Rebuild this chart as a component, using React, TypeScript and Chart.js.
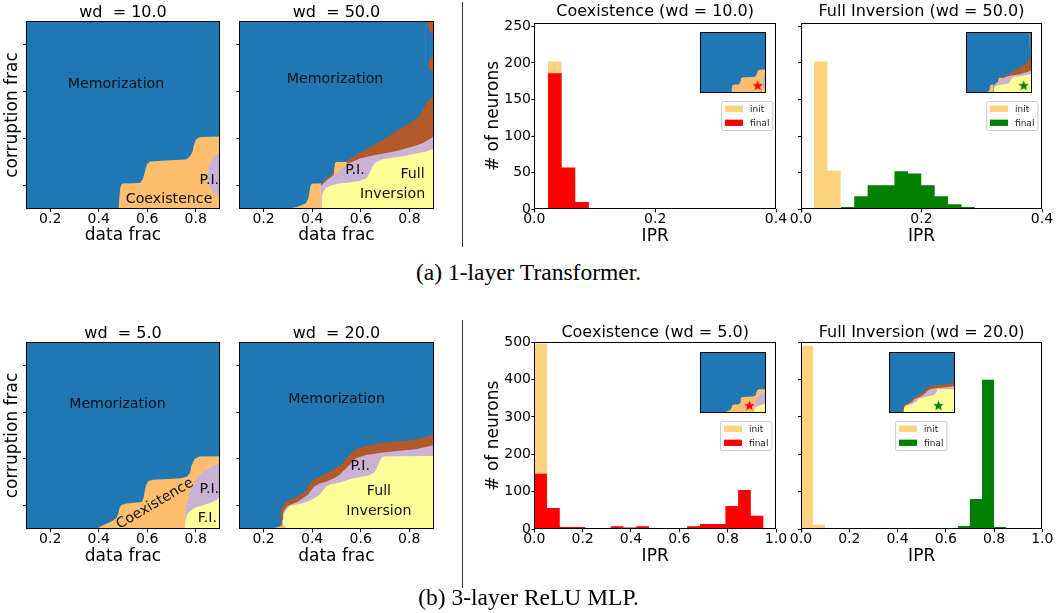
import React, { useEffect, useRef } from 'react';
import { Chart, registerables } from 'chart.js';

Chart.register(...registerables);

const FONT = "'DejaVu Sans', sans-serif";
const BLUE = '#1f77b4';
const ORANGE = '#fdbf6f';
const PURPLE = '#cab2d6';
const YELLOW = '#ffff99';
const BROWN = '#b15928';
const INIT_COLOR = 'rgba(255,165,0,0.5)';
const RED = '#ff0000';
const GREEN = '#008000';

type Pt = [number, number];

// ---------------- phase diagram data (data frac, corruption frac) ----------------
const PHASE_TICKS = [0.2, 0.4, 0.6, 0.8];

// (a) wd = 10.0
const P1_COEX_LOW: Pt[] = [[0.848, 0.245], [0.85, 0.22], [0.856, 0.2], [0.866, 0.18], [0.88, 0.165], [0.9, 0.153]];
const P1_PI: Pt[] = [[0.848, 0.245], [0.85, 0.27], [0.856, 0.29], [0.866, 0.31], [0.88, 0.327], [0.9, 0.337]];
const P1_COEX: Pt[] = [[0.1, 0.1], [0.482, 0.1], [0.485, 0.15], [0.489, 0.19], [0.494, 0.205], [0.5, 0.209], [0.57, 0.211], [0.582, 0.228], [0.588, 0.25], [0.594, 0.275], [0.6, 0.292], [0.612, 0.302], [0.66, 0.305], [0.76, 0.311], [0.775, 0.322], [0.786, 0.343], [0.792, 0.37], [0.798, 0.39], [0.806, 0.4], [0.82, 0.406], [0.9, 0.408]];
const P1_MEM: Pt[] = [[0.1, 0.9], [0.9, 0.9]];

// (a) wd = 50.0
const P2_COEX_LOW: Pt[] = [[0.295, 0.1], [0.34, 0.11], [0.374, 0.124], [0.384, 0.145], [0.389, 0.175], [0.392, 0.195], [0.397, 0.206], [0.405, 0.209], [0.436, 0.209], [0.437, 0.1]];
const P2_FI: Pt[] = [[0.437, 0.1], [0.439, 0.15], [0.446, 0.175], [0.457, 0.19], [0.477, 0.2], [0.512, 0.209], [0.553, 0.213], [0.594, 0.219], [0.625, 0.232], [0.638, 0.255], [0.647, 0.28], [0.66, 0.298], [0.69, 0.312], [0.731, 0.318], [0.786, 0.327], [0.827, 0.336], [0.861, 0.343], [0.9, 0.355]];
const P2_PI: Pt[] = [[0.436, 0.2], [0.46, 0.222], [0.49, 0.246], [0.512, 0.262], [0.53, 0.278], [0.553, 0.296], [0.6, 0.316], [0.65, 0.328], [0.7, 0.337], [0.76, 0.35], [0.81, 0.365], [0.855, 0.38], [0.9, 0.408]];
const P2_COEX_BLOB: Pt[] = [[0.488, 0.244], [0.491, 0.275], [0.494, 0.295], [0.5, 0.3], [0.54, 0.3], [0.545, 0.295], [0.548, 0.29]];
const P2_OTHER: Pt[] = [[0.44, 0.213], [0.47, 0.238], [0.487, 0.256], [0.491, 0.28], [0.495, 0.298], [0.5, 0.301], [0.545, 0.301], [0.555, 0.315], [0.6, 0.34], [0.65, 0.37], [0.7, 0.4], [0.76, 0.44], [0.81, 0.47], [0.84, 0.495], [0.855, 0.525], [0.875, 0.56], [0.9, 0.577]];
const P2_MEM: Pt[] = [[0.1, 0.9], [0.868, 0.9], [0.868, 0.71], [0.874, 0.71], [0.885, 0.693], [0.9, 0.682]];
const P2_OTHER_BLOB: Pt[] = [[0.874, 0.71], [0.88, 0.728], [0.89, 0.745], [0.9, 0.757]];
const P2_MEM_TOP: Pt[] = [[0.868, 0.9], [0.875, 0.88], [0.883, 0.86], [0.892, 0.845], [0.9, 0.838]];
const P2_OTHER_CORNER: Pt[] = [[0.868, 0.9], [0.9, 0.9]];

// (b) wd = 5.0
const P5_FI: Pt[] = [[0.755, 0.1], [0.755, 0.126], [0.76, 0.15], [0.768, 0.168], [0.78, 0.18], [0.8, 0.193], [0.83, 0.203], [0.86, 0.212], [0.885, 0.225], [0.9, 0.24]];
const P5_PI: Pt[] = [[0.753, 0.13], [0.756, 0.16], [0.76, 0.19], [0.765, 0.215], [0.772, 0.245], [0.78, 0.27], [0.797, 0.305], [0.815, 0.33], [0.835, 0.35], [0.866, 0.367], [0.9, 0.386]];
const P5_COEX: Pt[] = [[0.1, 0.1], [0.39, 0.1], [0.405, 0.111], [0.433, 0.125], [0.46, 0.137], [0.474, 0.15], [0.481, 0.17], [0.486, 0.193], [0.494, 0.204], [0.515, 0.21], [0.578, 0.216], [0.585, 0.235], [0.59, 0.265], [0.596, 0.292], [0.605, 0.306], [0.625, 0.311], [0.74, 0.318], [0.763, 0.324], [0.776, 0.34], [0.783, 0.372], [0.795, 0.4], [0.815, 0.41], [0.9, 0.412]];
const P5_MEM: Pt[] = [[0.1, 0.9], [0.9, 0.9]];

// (b) wd = 20.0
const P6_COEX: Pt[] = [[0.2, 0.1], [0.23, 0.103], [0.26, 0.11], [0.275, 0.116], [0.285, 0.118], [0.29, 0.11], [0.295, 0.1]];
const P6_FI: Pt[] = [[0.279, 0.1], [0.28, 0.14], [0.284, 0.165], [0.292, 0.18], [0.306, 0.198], [0.33, 0.205], [0.361, 0.211], [0.396, 0.225], [0.43, 0.246], [0.445, 0.265], [0.458, 0.283], [0.475, 0.292], [0.512, 0.299], [0.554, 0.313], [0.595, 0.322], [0.636, 0.332], [0.655, 0.342], [0.664, 0.355], [0.672, 0.375], [0.68, 0.395], [0.691, 0.41], [0.75, 0.412], [0.9, 0.413]];
const P6_PI: Pt[] = [[0.276, 0.14], [0.28, 0.17], [0.29, 0.19], [0.3, 0.2], [0.341, 0.218], [0.382, 0.246], [0.395, 0.265], [0.409, 0.282], [0.43, 0.295], [0.457, 0.303], [0.49, 0.318], [0.512, 0.332], [0.535, 0.355], [0.554, 0.374], [0.581, 0.403], [0.622, 0.417], [0.691, 0.427], [0.76, 0.435], [0.828, 0.441], [0.9, 0.459]];
const P6_OTHER: Pt[] = [[0.27, 0.14], [0.271, 0.17], [0.275, 0.195], [0.292, 0.218], [0.334, 0.236], [0.36, 0.252], [0.375, 0.268], [0.386, 0.29], [0.396, 0.303], [0.43, 0.324], [0.485, 0.353], [0.526, 0.381], [0.54, 0.4], [0.554, 0.417], [0.581, 0.441], [0.622, 0.455], [0.677, 0.467], [0.746, 0.474], [0.815, 0.481], [0.87, 0.495], [0.9, 0.502]];
const P6_MEM: Pt[] = [[0.1, 0.9], [0.9, 0.9]];

// region labels (data coordinates)
const P1_LABELS = [
  { text: 'Memorization', x: 0.471, y: 0.629 },
  { text: 'Coexistence', x: 0.69, y: 0.141 },
  { text: 'P.I.', x: 0.856, y: 0.224 },
];
const P2_LABELS = [
  { text: 'Memorization', x: 0.494, y: 0.65 },
  { text: 'P.I.', x: 0.576, y: 0.263 },
  { text: 'Full', x: 0.813, y: 0.249 },
  { text: 'Inversion', x: 0.731, y: 0.164 },
];
const P5_LABELS = [
  { text: 'Memorization', x: 0.477, y: 0.634 },
  { text: 'Coexistence', x: 0.632, y: 0.208, angle: 30.5 },
  { text: 'P.I.', x: 0.856, y: 0.272 },
  { text: 'F.I.', x: 0.848, y: 0.147 },
];
const P6_LABELS = [
  { text: 'Memorization', x: 0.501, y: 0.656 },
  { text: 'P.I.', x: 0.598, y: 0.367 },
  { text: 'Full', x: 0.675, y: 0.261 },
  { text: 'Inversion', x: 0.675, y: 0.175 },
];

// star markers in insets
const I3_STAR: Pt = [0.8, 0.2];
const I4_STAR: Pt = [0.8, 0.2];
const I7_STAR: Pt = [0.7, 0.2];
const I8_STAR: Pt = [0.7, 0.2];

// ---------------- histogram data (IPR bins, # of neurons) ----------------
const HIST_A_XTICKS = [0, 0.2, 0.4];
const HIST_A_YTICKS = [0, 50, 100, 150, 200, 250];
const HIST_B_XTICKS = [0, 0.2, 0.4, 0.6, 0.8, 1.0];
const HIST_B_YTICKS = [0, 100, 200, 300, 400, 500];

const H3_INIT_EDGES = [0.0226, 0.0452, 0.0678];
const H3_INIT_COUNTS = [202, 54];
const H3_FINAL_EDGES = [0.0226, 0.0452, 0.0678, 0.0904];
const H3_FINAL_COUNTS = [186, 57, 10];

const H4_INIT_EDGES = [0.0216, 0.0439, 0.0661];
const H4_INIT_COUNTS = [202, 53];
const H4_FINAL_EDGES = [0.0661, 0.0884, 0.1106, 0.1329, 0.1551, 0.1774, 0.1996, 0.2219, 0.2441, 0.2664, 0.2886];
const H4_FINAL_COUNTS = [3, 18, 33, 33, 52, 49, 33, 18, 7, 3];

const H7_INIT_EDGES = [0, 0.0527, 0.1054];
const H7_INIT_COUNTS = [496, 10];
const H7_FINAL_EDGES = [0, 0.0527, 0.1054, 0.1581, 0.2108, 0.2635, 0.3162, 0.3689, 0.4216, 0.4743, 0.527, 0.5797, 0.6324, 0.6851, 0.7378, 0.7905, 0.8432, 0.8959, 0.9486];
const H7_FINAL_COUNTS = [148, 57, 6, 6, 1, 3, 8, 5, 8, 3, 3, 3, 8, 14, 14, 62, 105, 36];

const H8_INIT_EDGES = [0, 0.05, 0.1];
const H8_INIT_COUNTS = [490, 12];
const H8_FINAL_EDGES = [0.3, 0.35, 0.6, 0.65, 0.7, 0.75, 0.8, 0.85];
const H8_FINAL_COUNTS = [1, 0, 3, 9, 81, 399, 6];

// ---------------- helpers ----------------
const TICK_LEN = 3;
const TICK_FS = 14;
const LABEL_FS = 17;
const TITLE_FS = 16;

const toXY = (a: Pt[]) => a.map(([x, y]) => ({ x, y }));

function stepPts(edges: number[], counts: number[]) {
  const p = counts.map((c, i) => ({ x: edges[i], y: c }));
  p.push({ x: edges[edges.length - 1], y: counts[counts.length - 1] });
  return p;
}

type Plot = { l: number; t: number; r: number; b: number };
function fitBox(plot: Plot, want: { left: number; top: number; right: number; bottom: number }) {
  const left = Math.floor(plot.l - want.left);
  const top = Math.floor(plot.t - want.top);
  const width = Math.ceil(plot.r + want.right - left);
  const height = Math.ceil(plot.b + want.bottom - top);
  return { left, top, width, height, mL: plot.l - left, mT: plot.t - top, mR: left + width - plot.r, mB: top + height - plot.b };
}

const framePlugin = {
  id: 'frame',
  afterDatasetsDraw(chart: any) {
    const { ctx, chartArea: a } = chart;
    ctx.save();
    ctx.strokeStyle = '#000';
    ctx.lineWidth = 1;
    const l = Math.round(a.left) + 0.5, t = Math.round(a.top) + 0.5;
    const r = Math.round(a.right) - 0.5, b = Math.round(a.bottom) - 0.5;
    ctx.strokeRect(l, t, r - l, b - t);
    ctx.restore();
  },
};

function makeTextPlugin(items: any[]) {
  return {
    id: 'phaseText',
    afterDatasetsDraw(chart: any) {
      const { ctx, scales } = chart;
      ctx.save();
      ctx.fillStyle = '#111';
      ctx.font = `14.2px ${FONT}`;
      ctx.textAlign = 'center';
      ctx.textBaseline = 'middle';
      items.forEach((it) => {
        ctx.save();
        ctx.translate(scales.x.getPixelForValue(it.x), scales.y.getPixelForValue(it.y));
        ctx.rotate((-(it.angle || 0) * Math.PI) / 180);
        ctx.fillText(it.text, 0, 0);
        ctx.restore();
      });
      ctx.restore();
    },
  };
}

function makeLegendPlugin(dx: number, dy: number) {
  return {
    id: 'boxLegend',
    afterDraw(chart: any) {
      const { ctx, chartArea } = chart;
      const items = chart.data.datasets.map((d: any) => ({ label: d.label, color: d.backgroundColor }));
      ctx.save();
      ctx.font = `9px ${FONT}`;
      const pad = 3.5, hw = 18, hh = 6.3, gap = 7, row = 14;
      const tw = Math.max(...items.map((i: any) => ctx.measureText(i.label).width));
      const w = pad + hw + gap + tw + pad;
      const h = items.length * row + 1;
      const x0 = Math.round(chartArea.left + dx) + 0.5;
      const y0 = Math.round(chartArea.top + dy) + 0.5;
      ctx.beginPath();
      if (ctx.roundRect) ctx.roundRect(x0, y0, w, h, 2);
      else ctx.rect(x0, y0, w, h);
      ctx.fillStyle = 'rgba(255,255,255,0.8)';
      ctx.fill();
      ctx.strokeStyle = '#cccccc';
      ctx.lineWidth = 1;
      ctx.stroke();
      items.forEach((it: any, i: number) => {
        const cy = y0 + 7.3 + i * row;
        ctx.fillStyle = it.color;
        ctx.fillRect(x0 + pad, cy - hh / 2, hw, hh);
        ctx.fillStyle = '#222';
        ctx.textBaseline = 'middle';
        ctx.textAlign = 'left';
        ctx.fillText(it.label, x0 + pad + hw + gap, cy + 0.5);
      });
      ctx.restore();
    },
  };
}

function makeStar(color: string, size: number) {
  const c = document.createElement('canvas');
  c.width = size;
  c.height = size;
  const g = c.getContext('2d')!;
  const cx = size / 2, cy = size / 2 + 0.5, R = size / 2, r = R * 0.42;
  g.beginPath();
  for (let i = 0; i < 10; i++) {
    const a = -Math.PI / 2 + (i * Math.PI) / 5;
    const rad = i % 2 === 0 ? R : r;
    g.lineTo(cx + rad * Math.cos(a), cy + rad * Math.sin(a));
  }
  g.closePath();
  g.fillStyle = color;
  g.fill();
  return c;
}

const gridOpts = { display: true, drawOnChartArea: false, drawTicks: true, tickLength: TICK_LEN, tickColor: '#000', tickWidth: 1, color: '#000' };

function xAxis(plot: Plot, lay: any, o: any) {
  return {
    type: 'linear', position: 'bottom', min: o.min, max: o.max,
    afterBuildTicks: (s: any) => { s.ticks = o.ticks.map((v: number) => ({ value: v })); },
    afterFit: (s: any) => { s.height = lay.mB; s.paddingLeft = 0; s.paddingRight = 0; },
    grid: gridOpts,
    border: { display: false },
    ticks: {
      display: true, autoSkip: false, maxRotation: 0, minRotation: 0, color: '#000',
      font: { family: FONT, size: TICK_FS, lineHeight: 1 },
      padding: o.labelY - plot.b - TICK_LEN - TICK_FS / 2,
      callback: (v: any) => Number(v).toFixed(1),
    },
    title: {
      display: true, text: o.title, color: '#000',
      font: { family: FONT, size: LABEL_FS, lineHeight: 1 },
      padding: { top: 0, bottom: lay.top + lay.height - o.titleY - LABEL_FS / 2 },
    },
  };
}

function yAxis(plot: Plot, lay: any, o: any) {
  return {
    type: 'linear', position: 'left', min: o.min, max: o.max,
    afterBuildTicks: (s: any) => { s.ticks = o.ticks.map((v: number) => ({ value: v })); },
    afterFit: (s: any) => { s.width = lay.mL; s.paddingTop = 0; s.paddingBottom = 0; },
    grid: gridOpts,
    border: { display: false },
    ticks: {
      display: !!o.showLabels, autoSkip: false, color: '#000',
      font: { family: FONT, size: TICK_FS, lineHeight: 1 },
      padding: o.showLabels ? plot.l - TICK_LEN - o.labelRight : 0,
      callback: (v: any) => String(v),
    },
    title: o.title
      ? {
          display: true, text: o.title, color: '#000',
          font: { family: FONT, size: LABEL_FS, lineHeight: 1 },
          padding: { top: o.titleX - lay.left - LABEL_FS / 2, bottom: 0 },
        }
      : { display: false },
  };
}

function titleOpts(lay: any, text: string, titleY: number) {
  const top = titleY - lay.top - TITLE_FS / 2;
  return {
    display: true, text, fullSize: false, color: '#000',
    font: { family: FONT, size: TITLE_FS, weight: 'normal', lineHeight: 1 },
    padding: { top, bottom: lay.mT - TITLE_FS - top },
  };
}

function phaseDatasets(layers: any[]) {
  return layers.map((l) => ({
    type: 'line', label: l.name, data: toXY(l.data), backgroundColor: l.color,
    borderWidth: 0, pointRadius: 0, fill: 'start', tension: 0,
  }));
}

function phaseChart(spec: any) {
  const lay = fitBox(spec.plot, { left: spec.yTitle ? spec.plot.l : 6, top: 21, right: 14, bottom: 40 });
  const build = () => ({
    type: 'line',
    data: { datasets: phaseDatasets(spec.layers) },
    options: {
      responsive: false, animation: false, events: [],
      layout: { padding: { left: 0, top: 0, right: lay.mR, bottom: 0 } },
      plugins: { legend: { display: false }, tooltip: { enabled: false }, title: titleOpts(lay, spec.title, spec.titleY) },
      scales: {
        x: xAxis(spec.plot, lay, { min: 0.1, max: 0.9, ticks: PHASE_TICKS, labelY: spec.labelY, title: 'data frac', titleY: spec.xTitleY }),
        y: yAxis(spec.plot, lay, { min: 0.1, max: 0.9, ticks: PHASE_TICKS, showLabels: false, title: spec.yTitle, titleX: 12.5 }),
      },
    },
    plugins: [framePlugin, makeTextPlugin(spec.labels)],
  });
  return { key: spec.key, lay, build };
}

function histChart(spec: any) {
  const lay = fitBox(spec.plot, { left: spec.yTitle ? 54 : 14, top: 22, right: 14, bottom: 40 });
  const build = () => ({
    type: 'line',
    data: {
      datasets: [
        { label: 'init', data: stepPts(spec.initEdges, spec.initCounts), backgroundColor: INIT_COLOR, borderWidth: 0, pointRadius: 0, fill: 'origin', stepped: true, order: 1 },
        { label: 'final', data: stepPts(spec.finalEdges, spec.finalCounts), backgroundColor: spec.finalColor, borderWidth: 0, pointRadius: 0, fill: 'origin', stepped: true, order: 0 },
      ],
    },
    options: {
      responsive: false, animation: false, events: [],
      layout: { padding: { left: 0, top: 0, right: lay.mR, bottom: 0 } },
      plugins: { legend: { display: false }, tooltip: { enabled: false }, title: titleOpts(lay, spec.title, spec.titleY) },
      scales: {
        x: xAxis(spec.plot, lay, { min: 0, max: spec.xMax, ticks: spec.xTicks, labelY: spec.labelY, title: 'IPR', titleY: spec.xTitleY }),
        y: yAxis(spec.plot, lay, { min: 0, max: spec.yMax, ticks: spec.yTicks, showLabels: !!spec.yTitle, labelRight: spec.plot.l - 3.3, title: spec.yTitle, titleX: 493.6 }),
      },
    },
    plugins: [framePlugin, makeLegendPlugin(spec.legendDx, spec.legendDy)],
  });
  return { key: spec.key, lay, build };
}

function insetChart(spec: any) {
  const lay = fitBox(spec.plot, { left: 1, top: 1, right: 1, bottom: 1 });
  const build = () => ({
    type: 'line',
    data: {
      datasets: [
        { type: 'line', label: 'star', data: toXY([spec.star]), showLine: false, fill: false, pointStyle: makeStar(spec.starColor, 11), pointRadius: 5, borderWidth: 0 },
        ...phaseDatasets(spec.layers),
      ],
    },
    options: {
      responsive: false, animation: false, events: [],
      layout: { padding: { left: lay.mL, top: lay.mT, right: lay.mR, bottom: lay.mB } },
      plugins: { legend: { display: false }, tooltip: { enabled: false }, title: { display: false } },
      scales: {
        x: { type: 'linear', min: 0.1, max: 0.9, display: false },
        y: { type: 'linear', min: 0.1, max: 0.9, display: false },
      },
    },
    plugins: [framePlugin],
  });
  return { key: spec.key, lay, build };
}

// ---------------- layer tables ----------------
const P1_LAYERS = [
  { name: 'Coexistence', color: ORANGE, data: P1_COEX_LOW },
  { name: 'Partial Inversion', color: PURPLE, data: P1_PI },
  { name: 'Coexistence', color: ORANGE, data: P1_COEX },
  { name: 'Memorization', color: BLUE, data: P1_MEM },
];
const P2_LAYERS = [
  { name: 'Coexistence', color: ORANGE, data: P2_COEX_LOW },
  { name: 'Full Inversion', color: YELLOW, data: P2_FI },
  { name: 'Partial Inversion', color: PURPLE, data: P2_PI },
  { name: 'Coexistence', color: ORANGE, data: P2_COEX_BLOB },
  { name: 'Other', color: BROWN, data: P2_OTHER },
  { name: 'Memorization', color: BLUE, data: P2_MEM },
  { name: 'Other', color: BROWN, data: P2_OTHER_BLOB },
  { name: 'Memorization', color: BLUE, data: P2_MEM_TOP },
  { name: 'Other', color: BROWN, data: P2_OTHER_CORNER },
];
const P5_LAYERS = [
  { name: 'Full Inversion', color: YELLOW, data: P5_FI },
  { name: 'Partial Inversion', color: PURPLE, data: P5_PI },
  { name: 'Coexistence', color: ORANGE, data: P5_COEX },
  { name: 'Memorization', color: BLUE, data: P5_MEM },
];
const P6_LAYERS = [
  { name: 'Coexistence', color: ORANGE, data: P6_COEX },
  { name: 'Full Inversion', color: YELLOW, data: P6_FI },
  { name: 'Partial Inversion', color: PURPLE, data: P6_PI },
  { name: 'Other', color: BROWN, data: P6_OTHER },
  { name: 'Memorization', color: BLUE, data: P6_MEM },
];

const CHARTS = [
  phaseChart({ key: 'p1', layers: P1_LAYERS, labels: P1_LABELS, plot: { l: 26, t: 21, r: 220, b: 209 }, title: 'wd  = 10.0', titleY: 13, labelY: 219.4, xTitleY: 236, yTitle: 'corruption frac' }),
  phaseChart({ key: 'p2', layers: P2_LAYERS, labels: P2_LABELS, plot: { l: 239.3, t: 21, r: 433.7, b: 209 }, title: 'wd  = 50.0', titleY: 13, labelY: 219.4, xTitleY: 236 }),
  phaseChart({ key: 'p5', layers: P5_LAYERS, labels: P5_LABELS, plot: { l: 26, t: 341.7, r: 220, b: 529.3 }, title: 'wd  = 5.0', titleY: 333.5, labelY: 539.7, xTitleY: 556.5, yTitle: 'corruption frac' }),
  phaseChart({ key: 'p6', layers: P6_LAYERS, labels: P6_LABELS, plot: { l: 239.3, t: 341.7, r: 433.5, b: 529.3 }, title: 'wd  = 20.0', titleY: 333.5, labelY: 539.7, xTitleY: 556.5 }),
  histChart({ key: 'h3', plot: { l: 534.3, t: 22.7, r: 776, b: 209.3 }, title: 'Coexistence (wd = 10.0)', titleY: 12.1, labelY: 219.5, xTitleY: 236.7, yTitle: '# of neurons', xMax: 0.4, yMax: 255, xTicks: HIST_A_XTICKS, yTicks: HIST_A_YTICKS, initEdges: H3_INIT_EDGES, initCounts: H3_INIT_COUNTS, finalEdges: H3_FINAL_EDGES, finalCounts: H3_FINAL_COUNTS, finalColor: RED, legendDx: 187, legendDy: 78.3 }),
  histChart({ key: 'h4', plot: { l: 801, t: 22.7, r: 1042, b: 209.3 }, title: 'Full Inversion (wd = 50.0)', titleY: 12.1, labelY: 219.5, xTitleY: 236.7, xMax: 0.4, yMax: 255, xTicks: HIST_A_XTICKS, yTicks: HIST_A_YTICKS, initEdges: H4_INIT_EDGES, initCounts: H4_INIT_COUNTS, finalEdges: H4_FINAL_EDGES, finalCounts: H4_FINAL_COUNTS, finalColor: GREEN, legendDx: 184.7, legendDy: 78.3 }),
  histChart({ key: 'h7', plot: { l: 534.3, t: 342, r: 776, b: 529.3 }, title: 'Coexistence (wd = 5.0)', titleY: 332.4, labelY: 539, xTitleY: 557, yTitle: '# of neurons', xMax: 1.0, yMax: 500, xTicks: HIST_B_XTICKS, yTicks: HIST_B_YTICKS, initEdges: H7_INIT_EDGES, initCounts: H7_INIT_COUNTS, finalEdges: H7_FINAL_EDGES, finalCounts: H7_FINAL_COUNTS, finalColor: RED, legendDx: 186, legendDy: 79 }),
  histChart({ key: 'h8', plot: { l: 801, t: 342, r: 1042.3, b: 529.3 }, title: 'Full Inversion (wd = 20.0)', titleY: 332.4, labelY: 539, xTitleY: 557, xMax: 1.0, yMax: 500, xTicks: HIST_B_XTICKS, yTicks: HIST_B_YTICKS, initEdges: H8_INIT_EDGES, initCounts: H8_INIT_COUNTS, finalEdges: H8_FINAL_EDGES, finalCounts: H8_FINAL_COUNTS, finalColor: GREEN, legendDx: 94.3, legendDy: 79 }),
  insetChart({ key: 'i3', plot: { l: 696, t: 28, r: 769.3, b: 96.7 }, layers: P1_LAYERS, star: I3_STAR, starColor: RED }),
  insetChart({ key: 'i4', plot: { l: 962.3, t: 28, r: 1036, b: 96.7 }, layers: P2_LAYERS, star: I4_STAR, starColor: GREEN }),
  insetChart({ key: 'i7', plot: { l: 696, t: 348.7, r: 769.3, b: 416.7 }, layers: P5_LAYERS, star: I7_STAR, starColor: RED }),
  insetChart({ key: 'i8', plot: { l: 885.3, t: 348.7, r: 958.3, b: 416.7 }, layers: P6_LAYERS, star: I8_STAR, starColor: GREEN }),
];

function ChartCanvas({ box, build }: { box: any; build: () => any }) {
  const ref = useRef<HTMLCanvasElement>(null);
  useEffect(() => {
    const chart = new Chart(ref.current as HTMLCanvasElement, build());
    return () => chart.destroy();
  }, []);
  return (
    <canvas
      ref={ref}
      width={box.width}
      height={box.height}
      style={{ position: 'absolute', left: box.left, top: box.top, width: box.width, height: box.height }}
    />
  );
}

const captionStyle = (top: number): React.CSSProperties => ({
  position: 'absolute', left: 0, width: 1057, top, textAlign: 'center',
  fontFamily: "'Liberation Serif', 'Times New Roman', serif", fontSize: 23.5, lineHeight: '23.5px', color: '#000',
});

export default function App() {
  useEffect(() => {
    document.body.style.margin = '0';
  }, []);
  return (
    <div style={{ position: 'fixed', left: 0, top: 0, width: 1057, height: 613, background: '#fff', overflow: 'hidden' }}>
      {CHARTS.map((c) => (
        <ChartCanvas key={c.key} box={c.lay} build={c.build} />
      ))}
      <div style={{ position: 'absolute', left: 462, top: 2, width: 1, height: 245, background: '#333' }} />
      <div style={{ position: 'absolute', left: 462, top: 320, width: 1, height: 268, background: '#333' }} />
      <div style={captionStyle(261.3)}>(a) 1-layer Transformer.</div>
      <div style={captionStyle(586.3)}>(b) 3-layer ReLU MLP.</div>
    </div>
  );
}
